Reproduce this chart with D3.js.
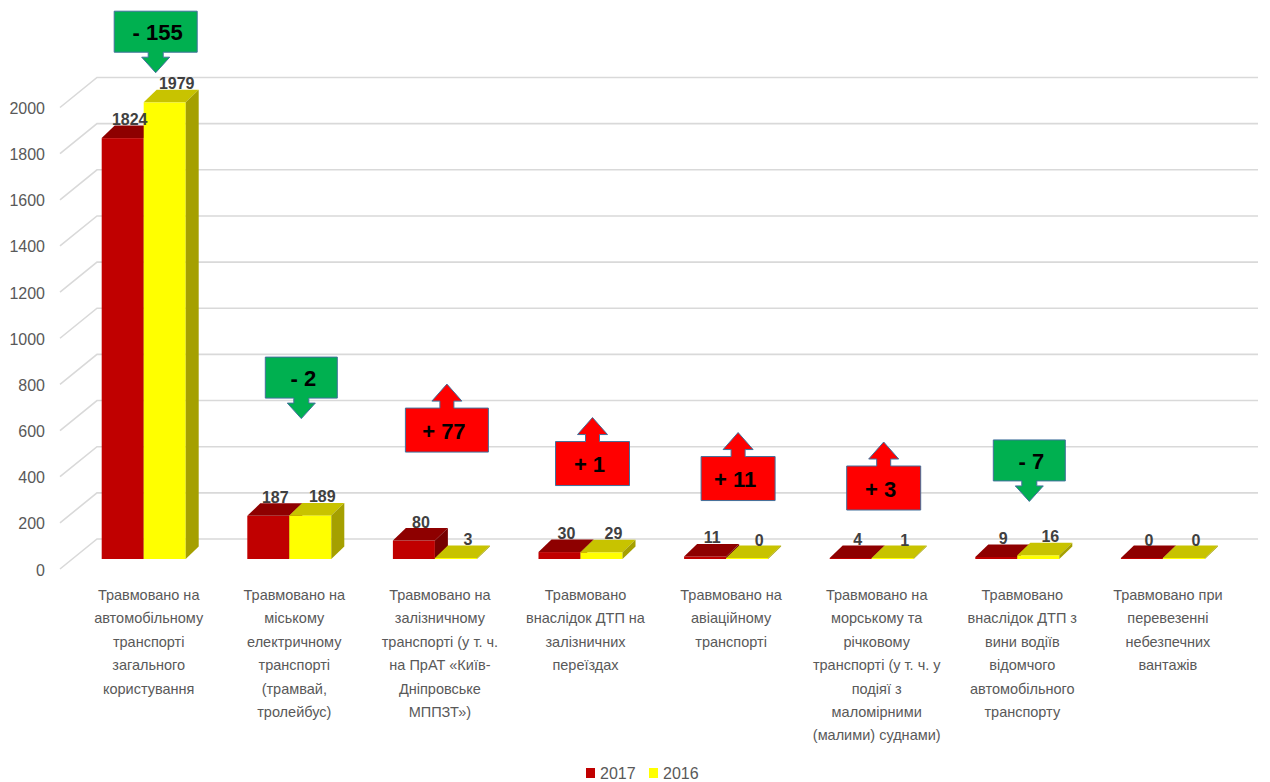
<!DOCTYPE html>
<html>
<head>
<meta charset="utf-8">
<script src="https://cdn.jsdelivr.net/npm/d3@7"></script>
<style>
  html, body { margin: 0; padding: 0; background: #ffffff; }
  svg { display: block; }
</style>
</head>
<body>
<svg id="chart" width="1270" height="782"></svg>
<script>
// ---------- DATA ----------
const categories = [
  ["Травмовано на", "автомобільному", "транспорті", "загального", "користування"],
  ["Травмовано на", "міському", "електричному", "транспорті", "(трамвай,", "тролейбус)"],
  ["Травмовано на", "залізничному", "транспорті (у т. ч.", "на ПрАТ «Київ-", "Дніпровське", "МППЗТ»)"],
  ["Травмовано", "внаслідок ДТП на", "залізничних", "переїздах"],
  ["Травмовано на", "авіаційному", "транспорті"],
  ["Травмовано на", "морському та", "річковому", "транспорті (у т. ч. у", "подіяї з", "маломірними", "(малими) суднами)"],
  ["Травмовано", "внаслідок ДТП з", "вини водіїв", "відомчого", "автомобільного", "транспорту"],
  ["Травмовано при", "перевезенні", "небезпечних", "вантажів"]
];
const values2017 = [1824, 187, 80, 30, 11, 4, 9, 0];
const values2016 = [1979, 189, 3, 29, 0, 1, 16, 0];
const seriesNames = ["2017", "2016"];
const yTicks = [0, 200, 400, 600, 800, 1000, 1200, 1400, 1600, 1800, 2000];
// level (in axis units) of the top edge of each change badge
const badgeLevels = [2374, 875, 654, 509, 444, 403, 516, null];

// ---------- SETUP ----------
const svg = d3.select("#chart");
const FONT = "'Liberation Sans', Arial, sans-serif";
const colors = {
  red:    { front: "#C00000", top: "#8E0000", side: "#760000" },
  yellow: { front: "#FFFF00", top: "#C8C300", side: "#A5A000" }
};
const DX = 13, DY = -12.5;
const barW = 42;

const idx = categories.map((d, i) => i);
const x = d3.scaleBand().domain(idx).range([70.9, 1235.7]).paddingInner(0).paddingOuter(0);
const y = d3.scaleLinear().domain([0, 2000]).range([559, 97.5]);
const center = i => x(i) + x.bandwidth() / 2;

// ---------- GRID ----------
const grid = svg.append("g");
yTicks.forEach(t => {
  grid.append("path")
    .attr("d", `M60,${y(t) + 10} L97,${y(t) - 20} L1258,${y(t) - 20}`)
    .attr("fill", "none")
    .attr("stroke", "#D9D9D9")
    .attr("stroke-width", 1.6);
});
svg.append("g").selectAll("text").data(yTicks).join("text")
  .attr("x", 45)
  .attr("y", d => y(d) + 11)
  .attr("text-anchor", "end")
  .attr("dominant-baseline", "central")
  .attr("font-family", FONT)
  .attr("font-size", 16)
  .attr("fill", "#595959")
  .text(d => d);

// ---------- BARS ----------
function drawBar(g, x0, v, c) {
  const base = y(0);
  const top = Math.min(y(v), base - 1);
  g.append("rect").attr("x", x0).attr("y", top).attr("width", barW).attr("height", base - top)
    .attr("fill", c.front);
  g.append("path")
    .attr("d", `M${x0},${top} L${x0 + DX},${top + DY} L${x0 + barW + DX},${top + DY} L${x0 + barW},${top} Z`)
    .attr("fill", c.top);
  g.append("path")
    .attr("d", `M${x0 + barW},${top} L${x0 + barW + DX},${top + DY} L${x0 + barW + DX},${base + DY} L${x0 + barW},${base} Z`)
    .attr("fill", c.side);
}

const bars = svg.append("g");
idx.forEach(i => {
  const g = bars.append("g");
  drawBar(g, center(i) - barW, values2017[i], colors.red);
  drawBar(g, center(i), values2016[i], colors.yellow);
});

// value labels
const labelG = svg.append("g")
  .attr("font-family", FONT).attr("font-size", 16).attr("font-weight", "bold")
  .attr("fill", "#404040").attr("text-anchor", "middle");
labelG.selectAll("text.v17").data(values2017).join("text").attr("class", "v17")
  .attr("x", (d, i) => center(i) - barW / 2 + 7)
  .attr("y", d => y(d) - 13)
  .text(d => d);
labelG.selectAll("text.v16").data(values2016).join("text").attr("class", "v16")
  .attr("x", (d, i) => center(i) + barW / 2 + 12)
  .attr("y", d => y(d) - 13)
  .text(d => d);

// ---------- CATEGORY LABELS ----------
const catG = svg.append("g")
  .attr("font-family", FONT).attr("font-size", 14.5).attr("fill", "#595959")
  .attr("text-anchor", "middle");
categories.forEach((lines, i) => {
  const t = catG.append("text").attr("x", center(i) + 5).attr("y", 600);
  lines.forEach((ln, k) => {
    t.append("tspan").attr("x", center(i) + 5).attr("y", 600 + k * 23.4).text(ln);
  });
});

// ---------- CHANGE BADGES ----------
const badgeG = svg.append("g");
idx.forEach(i => {
  if (badgeLevels[i] == null) return;
  const d = values2017[i] - values2016[i];
  if (d === 0) return;
  const down = d < 0;
  const w = Math.abs(d) >= 50 ? 83 : (down ? 72 : 74);
  const h = down ? 41 : 44;
  const cx = center(i) + 12;
  const y0 = y(badgeLevels[i]);
  const x0 = cx - w / 2, x1 = cx + w / 2, y1 = y0 + h;
  let p;
  if (down) {
    const sw = 15, hw = 28;
    p = `M${x0},${y0} H${x1} V${y1} H${cx + sw / 2} V${y1 + 5} H${cx + hw / 2} L${cx},${y1 + 20.5} L${cx - hw / 2},${y1 + 5} H${cx - sw / 2} V${y1} H${x0} Z`;
  } else {
    const sw = 14, hw = 30;
    p = `M${x0},${y0} H${cx - sw / 2} V${y0 - 7} H${cx - hw / 2} L${cx},${y0 - 24} L${cx + hw / 2},${y0 - 7} H${cx + sw / 2} V${y0} H${x1} V${y1} H${x0} Z`;
  }
  badgeG.append("path").attr("d", p)
    .attr("fill", down ? "#00B050" : "#FF0000")
    .attr("stroke", "#41719C").attr("stroke-width", 1);
  badgeG.append("text")
    .attr("x", cx + (down ? 2 : -3))
    .attr("y", y0 + h / 2 + 1)
    .attr("text-anchor", "middle")
    .attr("dominant-baseline", "central")
    .attr("font-family", FONT).attr("font-size", 22).attr("font-weight", "bold")
    .attr("fill", "#000000")
    .text((down ? "- " : "+ ") + Math.abs(d));
});

// ---------- LEGEND ----------
const legendColors = [colors.red.front, colors.yellow.front];
const legend = svg.append("g");
const lx = [586, 649];
seriesNames.forEach((s, k) => {
  legend.append("rect").attr("x", lx[k]).attr("y", 768).attr("width", 9).attr("height", 10)
    .attr("fill", legendColors[k]);
  legend.append("text").attr("x", lx[k] + 14).attr("y", 779)
    .attr("font-family", FONT).attr("font-size", 16).attr("fill", "#595959")
    .text(s);
});
</script>
</body>
</html>
